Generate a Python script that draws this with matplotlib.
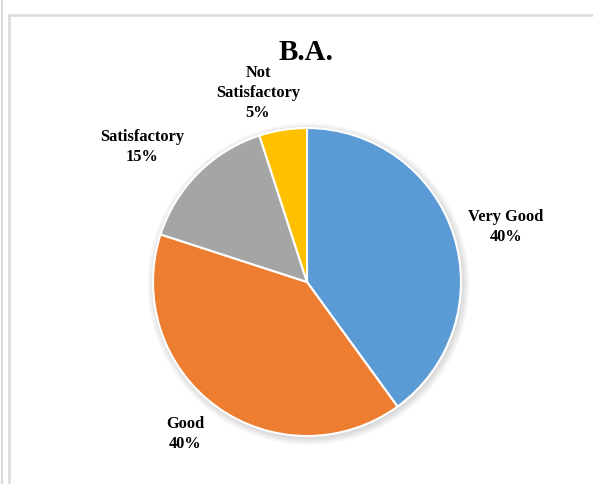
import matplotlib
matplotlib.use('Agg')
import matplotlib.pyplot as plt
from matplotlib.patches import Circle
from matplotlib.lines import Line2D

# data
categories = ['Very Good', 'Good', 'Satisfactory', 'Not\nSatisfactory']
values = [40, 40, 15, 5]
colors = ['#5B9BD5', '#ED7D31', '#A5A5A5', '#FFC000']
title = 'B.A.'

plt.rcParams['font.family'] = ['Liberation Serif', 'DejaVu Serif']

W, H = 593, 484
fig = plt.figure(figsize=(W / 100, H / 100), dpi=100)
ax = fig.add_axes([0, 0, 1, 1])

cx, cy, r = 307, H - 282, 154

# soft shadow like the excel chart
for i in range(6):
    ax.add_patch(Circle((cx + 1.5, cy - 2), r + 1 + i * 1.2, color='#000000',
                        alpha=0.025, lw=0, zorder=1))

ax.pie(values, colors=colors, startangle=90, counterclock=False,
       center=(cx, cy), radius=r, frame=True,
       wedgeprops=dict(edgecolor='white', linewidth=1.5, zorder=2))
ax.set_xlim(0, W)
ax.set_ylim(0, H)
ax.set_aspect('equal')
ax.axis('off')

# label positions (pixels from top-left)
label_pos = [(506, 227), (185, 434), (142, 147), (258, 93)]
total = sum(values)
for name, v, (px, py) in zip(categories, values, label_pos):
    ax.text(px, H - py, f'{name}\n{round(v / total * 100)}%', ha='center', va='center',
            fontsize=11.8, fontweight='bold', linespacing=1.3, zorder=5)

ax.text(306, H - 52, title, ha='center', va='center', fontsize=21, fontweight='bold')

# chart border
border = '#d9d9d9'
fig.add_artist(Line2D([2 / W, 2 / W], [0, 1], color=border, lw=1.5))
fig.add_artist(Line2D([9 / W, 9 / W], [0, 1 - 15 / H], color=border, lw=1.8))
fig.add_artist(Line2D([9 / W, 1], [1 - 15 / H, 1 - 15 / H], color=border, lw=1.8))

fig.savefig('out.png', dpi=100)
